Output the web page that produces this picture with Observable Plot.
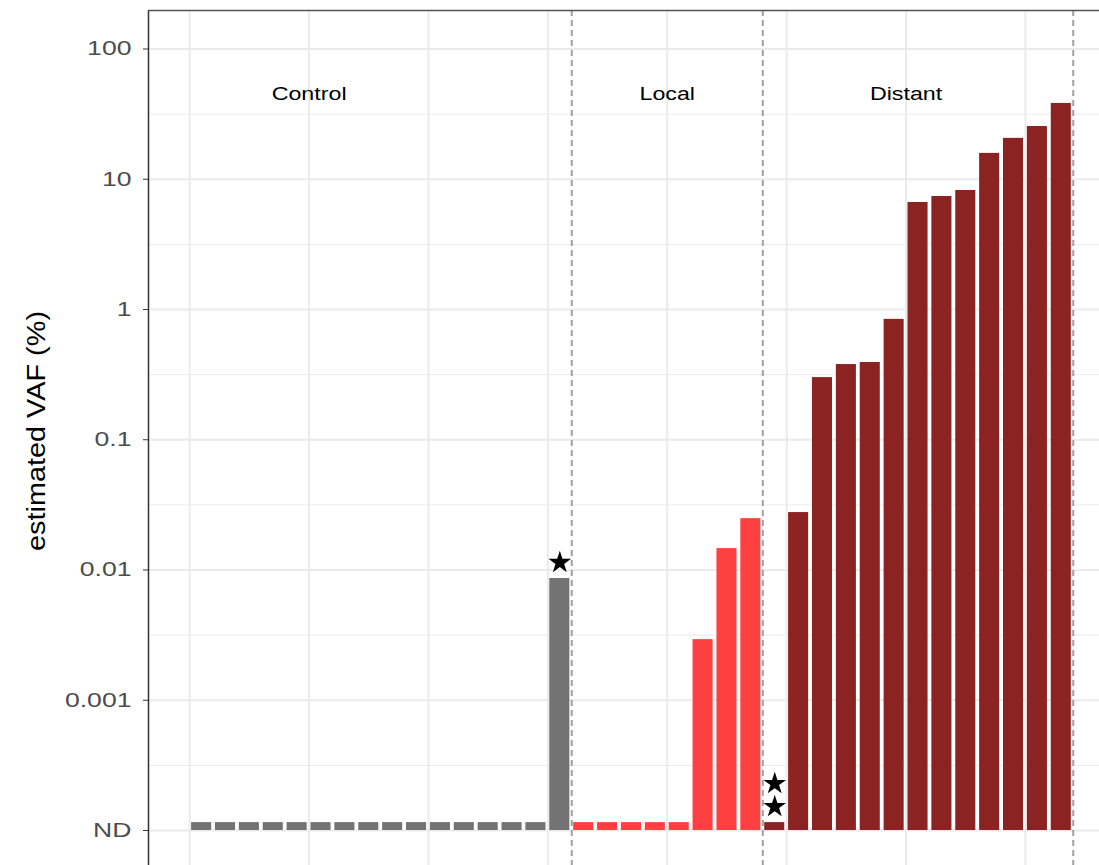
<!DOCTYPE html>
<html>
<head>
<meta charset="utf-8">
<script src="https://cdn.jsdelivr.net/npm/d3@7"></script>
<script src="https://cdn.jsdelivr.net/npm/@observablehq/plot@0.6"></script>
<style>
  html, body { margin: 0; padding: 0; background: #fff; overflow: hidden; }
  #chart svg { display: block; }
</style>
</head>
<body>
<div id="chart"></div>
<script>
// ---------- data ----------
const groups = ["Control", "Local", "Distant"];
const groupColors = ["#737373", "#FF4040", "#8B2323"];
// "ND" = not detected (drawn as a stub just above the ND line)
const controlValues = ["ND","ND","ND","ND","ND","ND","ND","ND","ND","ND","ND","ND","ND","ND","ND", 0.0086];
const localValues   = ["ND","ND","ND","ND","ND", 0.00292, 0.0146, 0.0248];
const distantValues = ["ND", 0.0276, 0.30, 0.378, 0.392, 0.84, 6.63, 7.37, 8.2, 15.8, 20.6, 25.4, 38.2];
const ndValue = 1.15e-4;      // height of ND stubs
const ndLine = 1e-4;          // position of the "ND" tick / bar baseline
const groupLabelX = [5, 20, 30];
const groupLabelY = 45;
const dividerX = [16, 24, 37];
const starBars = [16, 25];    // sample index (1-based) carrying stars
const starCounts = [1, 2];
const yTicks = [1e-4, 1e-3, 1e-2, 1e-1, 1, 10, 100];
const yTickLabels = ["ND", "0.001", "0.01", "0.1", "1", "10", "100"];
const yMinor = [10**-3.5, 10**-2.5, 10**-1.5, 10**-0.5, 10**0.5, 10**1.5];
const xGrid = [0, 5, 10, 15, 20, 25, 30, 35];

// ---------- build table ----------
const seriesValues = [controlValues, localValues, distantValues];
const bars = [];
let idx = 0;
seriesValues.forEach((vals, g) => {
  vals.forEach(v => {
    idx += 1;
    bars.push({
      i: idx,
      group: groups[g],
      nd: v === "ND",
      value: v === "ND" ? ndValue : v
    });
  });
});
const halfWidth = 0.42;
const starData = starBars.map((b, k) => ({bar: b, count: starCounts[k], value: bars[b - 1].value}));

const plot = Plot.plot({
  width: 1099,
  height: 865,
  marginLeft: 148,
  marginTop: 10,
  marginRight: 0,
  marginBottom: 0,
  style: {fontFamily: "'Liberation Sans', Arial, Helvetica, sans-serif", background: "#fff"},
  x: {domain: [-1.725, 38.10], axis: null},
  y: {type: "log", domain: [10 ** -4.2687, 10 ** 2.2956], axis: null},
  color: {domain: groups, range: groupColors},
  marks: [
    // grid
    Plot.ruleY(yMinor, {stroke: "#ebebeb", strokeWidth: 1}),
    Plot.ruleY(yTicks, {stroke: "#ebebeb", strokeWidth: 2}),
    Plot.ruleX(xGrid, {stroke: "#ebebeb", strokeWidth: 2}),
    // group dividers
    Plot.ruleX(dividerX, {stroke: "#a0a0a0", strokeWidth: 2, strokeDasharray: "6,4"}),
    // bars
    Plot.rect(bars, {
      x1: d => d.i - 0.5 - halfWidth,
      x2: d => d.i - 0.5 + halfWidth,
      y1: ndLine,
      y2: "value",
      fill: "group"
    }),
    // stars
    Plot.dot(starData, {x: d => d.bar - 0.5, y: "value", symbol: "star", r: 7.1, fill: "black", stroke: "none", dy: -16}),
    Plot.dot(starData.filter(d => d.count >= 2), {x: d => d.bar - 0.5, y: "value", symbol: "star", r: 7.1, fill: "black", stroke: "none", dy: -39}),
    // group labels
    Plot.text(groups, {x: (d, k) => groupLabelX[k], y: groupLabelY, text: d => d, fontSize: 18, fill: "black", ariaDescription: "group-label"}),
    // y axis
    Plot.axisY({ticks: yTicks, tickFormat: d => yTickLabels[yTicks.indexOf(d)], tickSize: 5, tickPadding: 12, fontSize: 20, color: "#4d4d4d", label: null}),
    // y title
    Plot.text(["estimated VAF (%)"], {frameAnchor: "left", textAnchor: "middle", rotate: -90, dx: -112, dy: -7, fontSize: 26, fill: "black", ariaDescription: "y-title"}),
    // panel border (left + top)
    Plot.ruleX([-1.725], {stroke: "#333333", strokeWidth: 1.5}),
    Plot.ruleY([10 ** 2.2956], {stroke: "#555555", strokeWidth: 1.5})
  ]
});

document.getElementById("chart").append(plot);

function stretch(selector, factor) {
  d3.select(plot).selectAll(selector).each(function () {
    const len = this.getComputedTextLength();
    this.setAttribute("textLength", (len * factor).toFixed(1));
    this.setAttribute("lengthAdjust", "spacingAndGlyphs");
  });
}
stretch('g[aria-label="y-axis tick label"] text', 1.33);
stretch('g[aria-description="group-label"] text', 1.29);
stretch('g[aria-description="y-title"] text', 1.11);
// tick marks darker than labels
d3.select(plot).selectAll('g[aria-label="y-axis tick"] path, g[aria-label="y-axis tick"] line').attr("stroke", "#333333");
</script>
</body>
</html>
